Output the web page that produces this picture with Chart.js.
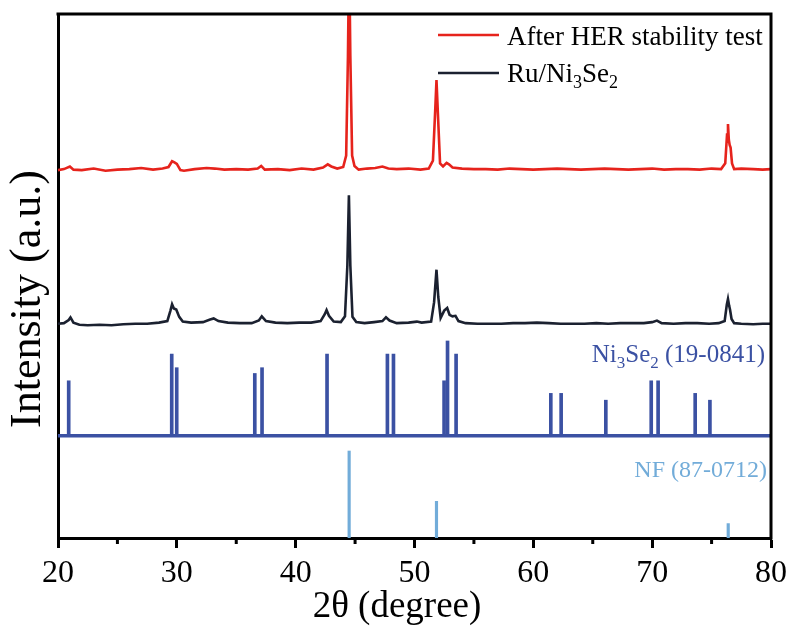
<!DOCTYPE html>
<html>
<head>
<meta charset="utf-8">
<script src="https://cdn.jsdelivr.net/npm/chart.js@4.4.0/dist/chart.umd.min.js"></script>
<style>
  html, body { margin: 0; padding: 0; background: #fff; }
  #wrap { width: 793px; height: 628px; }
</style>
</head>
<body>
<div id="wrap"><canvas id="xrdChart" width="793" height="628"></canvas></div>
<script>
// XRD patterns: Ru/Ni3Se2 before and after the HER stability test

const FONT = "'Liberation Serif', 'Times New Roman', serif";

// After HER stability test (red), 2θ and intensity (offset units)
const herX = [20.0, 20.5, 21.0, 21.3, 22.0, 23.0, 24.0, 25.0, 26.0, 27.0, 28.0, 28.8, 29.3, 29.6, 29.8, 30.0, 30.3, 30.6,
  31.5, 32.5, 33.2, 34.0, 35.0, 36.0, 36.8, 37.1, 37.4, 38.5, 39.5, 40.5, 41.5, 42.3, 42.7, 43.0, 43.5, 44.0,
  44.25, 44.4, 44.5, 44.6, 44.75, 44.95, 45.3, 46.0, 46.7, 47.3, 47.8, 48.5, 49.5, 50.5, 51.2, 51.55, 51.75,
  51.85, 51.95, 52.15, 52.4, 52.7, 52.9, 53.2, 54.0, 55.0, 56.0, 57.0, 58.0, 59.0, 60.0, 61.0, 62.0, 63.0,
  64.0, 65.0, 66.0, 67.0, 68.0, 69.0, 70.0, 71.0, 72.0, 73.0, 74.0, 75.0, 75.8, 76.15, 76.3, 76.38, 76.45,
  76.52, 76.6, 76.72, 76.9, 77.5, 78.5, 79.3, 80.0];
const herY = [70.2, 70.4, 70.9, 70.3, 70.2, 70.5, 70.1, 70.3, 70.4, 70.6, 70.3, 70.5, 70.8, 71.9, 71.7, 71.4, 70.2, 70.1,
  70.4, 70.6, 70.5, 70.3, 70.4, 70.3, 70.5, 71.0, 70.3, 70.4, 70.2, 70.5, 70.3, 70.7, 71.3, 70.9, 70.5, 70.8,
  73.0, 92.0, 112.0, 92.0, 73.0, 71.0, 70.3, 70.5, 70.6, 70.9, 70.5, 70.4, 70.5, 70.3, 70.5, 72.0, 82.0,
  87.4, 82.0, 71.5, 70.9, 71.6, 71.3, 70.7, 70.5, 70.4, 70.4, 70.3, 70.5, 70.4, 70.3, 70.4, 70.5, 70.4,
  70.3, 70.4, 70.5, 70.4, 70.3, 70.4, 70.5, 70.3, 70.4, 70.4, 70.3, 70.5, 70.4, 71.5, 77.0, 79.0, 76.0,
  75.0, 74.5, 71.5, 70.4, 70.5, 70.4, 70.3, 70.4];

// Ru/Ni3Se2 (black)
const ruX = [20.0, 20.5, 20.9, 21.05, 21.3, 21.8, 22.5, 23.5, 24.5, 25.5, 26.5, 27.5, 28.5, 29.2, 29.45, 29.6, 29.75,
  29.95, 30.2, 30.5, 31.2, 32.2, 32.8, 33.1, 33.5, 34.3, 35.3, 36.3, 36.9, 37.15, 37.5, 38.3, 39.3, 40.3, 41.3,
  42.1, 42.45, 42.6, 42.8, 43.2, 43.8, 44.15, 44.35, 44.48, 44.6, 44.78, 45.1, 45.8, 46.6, 47.3, 47.6, 47.9,
  48.5, 49.5, 50.2, 50.6, 51.4, 51.65, 51.85, 52.0, 52.2, 52.5, 52.75, 52.95, 53.2, 53.45, 53.7, 54.3, 55.3,
  56.3, 57.3, 58.3, 59.3, 60.3, 61.3, 62.3, 63.3, 64.3, 65.3, 66.3, 67.3, 68.3, 69.3, 70.0, 70.4, 70.8, 71.8,
  72.8, 73.8, 74.8, 75.6, 76.1, 76.28, 76.38, 76.48, 76.55, 76.68, 76.9, 77.5, 78.5, 79.3, 80.0];
const ruY = [40.9, 41.0, 41.6, 42.1, 41.1, 40.7, 40.6, 40.7, 40.6, 40.8, 40.9, 40.9, 41.1, 41.4, 43.3, 44.6, 43.8,
  43.6, 42.2, 41.3, 41.1, 41.2, 41.7, 41.9, 41.4, 41.1, 41.0, 41.0, 41.5, 42.3, 41.4, 41.1, 41.0, 41.1, 41.1,
  41.4, 42.7, 43.5, 42.4, 41.3, 41.2, 42.3, 52.0, 65.4, 52.0, 42.2, 41.2, 41.0, 41.2, 41.4, 42.1, 41.5,
  41.0, 41.1, 41.3, 41.1, 41.3, 45.0, 51.2, 46.0, 42.0, 43.4, 43.9, 42.6, 42.3, 42.4, 41.4, 41.0, 40.9,
  40.9, 40.9, 41.0, 41.0, 41.1, 41.0, 40.9, 40.9, 40.9, 41.0, 40.9, 41.0, 41.0, 41.0, 41.2, 41.5, 41.0, 40.9,
  41.0, 41.0, 40.9, 41.0, 41.4, 44.5, 45.6, 44.3, 43.6, 41.8, 41.0, 40.9, 40.8, 40.9, 40.9];

// Ni3Se2 standard card (19-0841): stick positions and tops, drawn from a common base
const ni3se2Base = 19.5;
const ni3se2Pos = [20.9, 29.57, 29.99, 36.56, 37.17, 42.64, 47.72, 48.23, 52.49, 52.78, 53.5, 61.47, 62.34, 66.1,
  69.92, 70.5, 73.62, 74.86];
const ni3se2Top = [30.0, 35.1, 32.5, 31.4, 32.5, 35.1, 35.1, 35.1, 30.0, 37.6, 35.1, 27.6, 27.6, 26.3,
  30.0, 30.0, 27.6, 26.3];

// NF standard card (87-0712)
const nfPos = [44.5, 51.85, 76.4];
const nfTop = [16.6, 7.0, 2.75];

const xTicks = [20, 30, 40, 50, 60, 70, 80];
const xMinorTicks = [25, 35, 45, 55, 65, 75];

const RED = '#e6231c';
const BLACK = '#1b2130';
const NAVY = '#3b51a3';
const SKY = '#72acd9';

function toPoints(xs, ys) {
  return xs.map((x, i) => ({ x: x, y: ys[i] }));
}

// writes text with subscript parts; parts = [[text, isSub], ...]
function drawRich(ctx, parts, x, y, size, align) {
  const subSize = Math.round(size * 0.66);
  let total = 0;
  parts.forEach(p => {
    ctx.font = (p[1] ? subSize : size) + 'px ' + FONT;
    total += ctx.measureText(p[0]).width;
  });
  let cx = align === 'right' ? x - total : x;
  ctx.textAlign = 'left';
  ctx.textBaseline = 'alphabetic';
  parts.forEach(p => {
    ctx.font = (p[1] ? subSize : size) + 'px ' + FONT;
    ctx.fillText(p[0], cx, p[1] ? y + size * 0.24 : y);
    cx += ctx.measureText(p[0]).width;
  });
}

const decorPlugin = {
  id: 'decor',
  afterDraw(chart) {
    const ctx = chart.ctx;
    const a = chart.chartArea;
    const xs = chart.scales.x;
    const ys = chart.scales.y;
    ctx.save();

    // top and right frame
    ctx.strokeStyle = '#000';
    ctx.lineWidth = 3;
    ctx.beginPath();
    ctx.moveTo(a.left - 1.5, a.top);
    ctx.lineTo(a.right, a.top);
    ctx.lineTo(a.right, a.bottom + 1.5);
    ctx.stroke();

    // minor ticks
    xMinorTicks.forEach(v => {
      const px = xs.getPixelForValue(v);
      ctx.beginPath();
      ctx.moveTo(px, a.bottom);
      ctx.lineTo(px, a.bottom + 6);
      ctx.stroke();
    });

    // legend
    ctx.lineWidth = 2.5;
    ctx.strokeStyle = RED;
    ctx.beginPath(); ctx.moveTo(438, 35); ctx.lineTo(499, 35); ctx.stroke();
    ctx.strokeStyle = BLACK;
    ctx.beginPath(); ctx.moveTo(438, 73); ctx.lineTo(499, 73); ctx.stroke();
    ctx.fillStyle = '#000';
    drawRich(ctx, [['After HER stability test', false]], 507, 45, 27, 'left');
    drawRich(ctx, [['Ru/Ni', false], ['3', true], ['Se', false], ['2', true]], 507, 82, 27, 'left');

    // card labels
    ctx.fillStyle = NAVY;
    drawRich(ctx, [['Ni', false], ['3', true], ['Se', false], ['2', true], [' (19-0841)', false]],
      765, ys.getPixelForValue(ni3se2Base) - 74, 25, 'right');
    ctx.fillStyle = SKY;
    drawRich(ctx, [['NF (87-0712)', false]], 767, ys.getPixelForValue(0) - 61, 24, 'right');

    // axis titles
    ctx.fillStyle = '#000';
    ctx.font = '37px ' + FONT;
    ctx.textAlign = 'center';
    ctx.textBaseline = 'alphabetic';
    ctx.fillText('2θ (degree)', 397, 617);
    ctx.translate(40, 299);
    ctx.rotate(-Math.PI / 2);
    ctx.font = '44px ' + FONT;
    ctx.fillText('Intensity (a.u.)', 0, 0);
    ctx.restore();
  }
};

const barBase = {
  type: 'bar',
  grouped: false,
  barThickness: 3,
  borderWidth: 0,
  borderSkipped: false
};

new Chart(document.getElementById('xrdChart'), {
  type: 'line',
  data: {
    datasets: [
      {
        label: 'After HER stability test',
        data: toPoints(herX, herY),
        borderColor: RED,
        borderWidth: 2.6,
        pointRadius: 0,
        tension: 0
      },
      {
        label: 'Ru/Ni3Se2',
        data: toPoints(ruX, ruY),
        borderColor: BLACK,
        borderWidth: 2.6,
        pointRadius: 0,
        tension: 0
      },
      {
        label: 'Ni3Se2 base',
        data: [{ x: 20, y: ni3se2Base }, { x: 80, y: ni3se2Base }],
        borderColor: NAVY,
        borderWidth: 3.5,
        pointRadius: 0
      },
      Object.assign({}, barBase, {
        label: 'Ni3Se2 (19-0841)',
        data: ni3se2Pos.map((x, i) => ({ x: x, y: [ni3se2Base, ni3se2Top[i]] })),
        backgroundColor: NAVY
      }),
      Object.assign({}, barBase, {
        label: 'NF (87-0712)',
        barThickness: 2.5,
        data: nfPos.map((x, i) => ({ x: x, y: [0, nfTop[i]] })),
        backgroundColor: SKY
      })
    ]
  },
  options: {
    responsive: false,
    animation: false,
    devicePixelRatio: 1,
    layout: { padding: { top: 14, right: 22, left: 0, bottom: 0 } },
    plugins: {
      legend: { display: false },
      tooltip: { enabled: false }
    },
    scales: {
      x: {
        type: 'linear',
        min: 20,
        max: 80,
        offset: false,
        afterBuildTicks: scale => { scale.ticks = xTicks.map(v => ({ value: v })); },
        afterFit: scale => { scale.height = 90; scale.paddingLeft = 0; scale.paddingRight = 0; },
        grid: { display: true, drawOnChartArea: false, offset: false, tickLength: 10, tickWidth: 3, tickColor: '#000' },
        border: { display: true, color: '#000', width: 3 },
        ticks: { color: '#000', font: { family: FONT, size: 32 }, padding: 6, maxRotation: 0, autoSkip: false }
      },
      y: {
        type: 'linear',
        min: 0,
        max: 100,
        afterFit: scale => { scale.width = 58; },
        grid: { display: false },
        border: { display: true, color: '#000', width: 3 },
        ticks: { display: false }
      }
    }
  },
  plugins: [decorPlugin]
});
</script>
</body>
</html>
